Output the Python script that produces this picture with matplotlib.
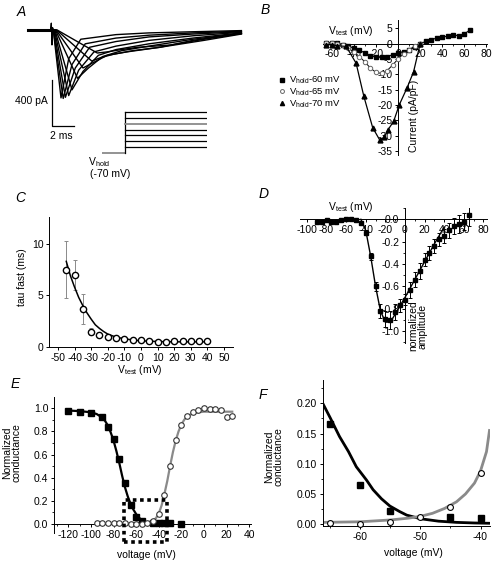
#!/usr/bin/env python3
"""Six-panel Na current figure: traces, I-V curves, tau, conductance."""

import matplotlib
matplotlib.use("Agg")
import matplotlib.pyplot as plt
from matplotlib.lines import Line2D
from matplotlib.ticker import MultipleLocator, FormatStrFormatter

W, H = 492, 562

# ---------------- data ----------------
# A: current traces (ms, pA)
trace_t = [
    [0, 2.3, 3.0, 3.7, 4.8, 8, 11, 15, 19.4],
    [0, 2.3, 3.2, 4.0, 5.2, 8, 11, 15, 19.4],
    [0, 2.35, 3.4, 4.3, 5.6, 8, 11, 15, 19.4],
    [0, 2.4, 3.7, 4.6, 6.0, 8, 11, 15, 19.4],
    [0, 2.45, 4.0, 5.0, 6.4, 8, 11, 15, 19.4],
    [0, 2.5, 4.5, 5.5, 6.8, 8.5, 11, 15, 19.4],
    [0, 2.55, 5.0, 6.0, 7.2, 9, 12, 15, 19.4],
    [0, 2.6, 5.8, 6.6, 7.8, 9.5, 12, 16, 19.4],
    [0, 2.65, 6.3, 7.2, 8.5, 10, 13, 16, 19.4],
]
trace_i = [
    [0, 0, -590, -250, -80, -40, -25, -15, -5],
    [0, 0, -595, -300, -120, -70, -45, -25, -10],
    [0, 0, -585, -330, -150, -100, -60, -35, -15],
    [0, 0, -570, -350, -190, -140, -90, -50, -20],
    [0, 0, -520, -360, -220, -170, -120, -70, -25],
    [0, 0, -420, -330, -230, -180, -140, -80, -30],
    [0, 0, -330, -280, -220, -190, -150, -90, -30],
    [0, 0, -270, -240, -210, -180, -150, -90, -35],
    [0, 0, -200, -190, -170, -150, -130, -80, -30],
]
artifact_t = [2.05, 2.12, 2.18, 2.24, 2.3]
artifact_i = [0, 60, -130, 20, 0]
scalebar_origin = (2.18, -835)
scalebar_ms = 2
scalebar_pa = 400

# A: voltage protocol
hold_mv = -70
step_mv = [-60, -50, -40, -30, -20, -10, 0]
grey_step = -20
hold_ms = 2.1
step_ms = 7.45

# B: I-V at three holding potentials
b_v60 = [-65, -60, -55, -50, -45, -40, -35, -30, -25, -20, -15, -10, -5, 0,
         5, 10, 15, 20, 25, 30, 35, 40, 45, 50, 55, 60, 65]
b_i60 = [0.3, 0.3, 0.2, -0.3, -0.8, -1.5, -2.2, -3.0, -4.0, -4.4, -4.5, -4.3,
         -3.6, -3.1, -2.6, -2.1, -1.2, 0.0, 0.7, 1.3, 1.8, 2.2, 2.4, 2.8, 2.6,
         3.2, 4.4]
b_v65 = [-65, -60, -55, -50, -45, -40, -35, -30, -25, -20, -15, -10, -5, 0,
         5, 10, 15, 20]
b_i65 = [0.2, 0.1, -0.2, -0.6, -1.5, -2.8, -4.2, -6.0, -8.0, -9.4, -9.7,
         -8.8, -7.0, -5.0, -3.3, -2.0, -0.8, 0.0]
b_v70 = [-65, -60, -55, -47, -38, -31, -23, -16.5, -12.5, -9, -4, 1, 8, 14, 20]
b_i70 = [-0.3, -0.3, -0.7, -0.9, -6.4, -17.2, -27.4, -31.5, -30.5, -28,
         -25.3, -20, -14.5, -9.2, 0]

# C: fast inactivation time constant
c_v = [-45, -40, -35, -30, -25, -20, -15, -10, -5, 0, 5, 10, 15, 20, 25, 30,
       35, 40]
c_tau = [7.5, 7.0, 3.7, 1.5, 1.15, 0.95, 0.85, 0.75, 0.65, 0.65, 0.6, 0.5,
         0.5, 0.55, 0.55, 0.6, 0.55, 0.55]
c_err = [2.75, 1.45, 1.45, 0.3, 0.1, 0.1, 0.05, 0.05, 0.05, 0.05, 0.05, 0.05,
         0.05, 0.05, 0.05, 0.05, 0.05, 0.05]
c_fit_v = [-45, -42.5, -40, -37.5, -35, -32.5, -30, -27.5, -25, -22.5, -20,
           -15, -10, -5, 0, 10, 20, 30, 40]
c_fit_tau = [8.3, 6.9, 5.8, 4.8, 4.0, 3.3, 2.7, 2.15, 1.8, 1.5, 1.25, 0.95,
             0.8, 0.68, 0.6, 0.53, 0.5, 0.5, 0.5]

# D: normalized I-V
d_v = [-90, -85, -80, -75, -70, -65, -60, -55, -50, -45, -40, -35, -30, -25,
       -20, -15, -10, -5, 0, 5, 10, 15, 20, 25, 30, 35, 40, 45, 50, 55, 60, 65]
d_amp = [-0.02, -0.02, -0.01, -0.02, -0.02, -0.01, 0.0, 0.0, -0.01, -0.03,
         -0.12, -0.33, -0.6, -0.82, -0.89, -0.9, -0.83, -0.77, -0.72, -0.63,
         -0.54, -0.46, -0.36, -0.3, -0.24, -0.18, -0.15, -0.1, -0.06, -0.045,
         -0.02, 0.04]
d_err = [0.01, 0.01, 0.01, 0.01, 0.01, 0.01, 0.01, 0.01, 0.01, 0.01, 0.02,
         0.03, 0.04, 0.06, 0.07, 0.08, 0.07, 0.06, 0.05, 0.07, 0.07, 0.07,
         0.06, 0.06, 0.06, 0.06, 0.06, 0.07, 0.07, 0.08, 0.08, 0.1]
d_fit_v = [-45, -40, -35, -30, -25, -20, -15, -10, 0, 10, 20, 30, 40]
d_fit_amp = [0.0, -0.1, -0.33, -0.6, -0.82, -0.92, -0.92, -0.85, -0.7,
             -0.54, -0.38, -0.22, -0.07]

# E: inactivation (squares) and activation (circles)
e_inact_v = [-120, -110, -100, -90, -85, -80, -75, -70, -65, -60, -55, -45,
             -40, -35, -30, -20]
e_inact_g = [0.98, 0.97, 0.96, 0.92, 0.84, 0.73, 0.56, 0.35, 0.165, 0.064,
             0.022, 0.012, 0.01, 0.012, 0.01, 0.0]
e_act_v = [-95, -90, -85, -80, -75, -70, -65, -60, -55, -50, -45, -40, -35,
           -30, -25, -20, -15, -10, -5, 0, 5, 10, 15, 20, 25]
e_act_g = [0.01, 0.01, 0.01, 0.01, 0.01, 0.01, 0.002, 0.0, 0.004, 0.012,
           0.028, 0.085, 0.25, 0.5, 0.725, 0.855, 0.935, 0.965, 0.985, 1.0,
           0.99, 0.99, 0.985, 0.925, 0.93]
e_inact_fit_v = [-120, -110, -100, -95, -90, -87.5, -85, -82.5, -80, -77.5,
                 -75, -72.5, -70, -67.5, -65, -62.5, -60, -57.5, -55, -50,
                 -45, -40]
e_inact_fit_g = [0.98, 0.975, 0.965, 0.95, 0.92, 0.89, 0.85, 0.79, 0.72,
                 0.63, 0.53, 0.42, 0.32, 0.24, 0.175, 0.125, 0.085, 0.055,
                 0.03, 0.012, 0.004, 0.002]
e_act_fit_v = [-75, -65, -60, -55, -50, -47.5, -45, -42.5, -40, -37.5, -35,
               -32.5, -30, -27.5, -25, -22.5, -20, -17.5, -15, -10, -5, 0, 10,
               25]
e_act_fit_g = [0.002, 0.003, 0.004, 0.007, 0.013, 0.02, 0.03, 0.05, 0.09,
               0.16, 0.26, 0.37, 0.5, 0.62, 0.72, 0.8, 0.86, 0.9, 0.93, 0.955,
               0.965, 0.97, 0.97, 0.97]
zoom_box_v = [-71, -33]
zoom_box_g = [-0.155, 0.205]

# F: window region, enlarged
f_inact_v = [-65, -60, -55, -45, -40]
f_inact_g = [0.165, 0.064, 0.022, 0.012, 0.01]
f_act_v = [-65, -60, -55, -50, -45, -40]
f_act_g = [0.002, 0.0, 0.004, 0.012, 0.028, 0.085]
f_inact_fit_v = [-66.3, -65, -63.5, -62, -60.7, -59, -57.9, -56.5, -55.1,
                 -53.5, -52.3, -50, -47, -44, -41, -38.5]
f_inact_fit_g = [0.2, 0.175, 0.145, 0.12, 0.095, 0.073, 0.057, 0.042, 0.03,
                 0.021, 0.015, 0.009, 0.005, 0.003, 0.002, 0.0015]
f_act_fit_v = [-66.3, -60, -55, -52, -50, -48, -46, -44, -42.5, -41, -40,
               -39, -38.5]
f_act_fit_g = [0.003, 0.004, 0.007, 0.01, 0.013, 0.018, 0.026, 0.037, 0.05,
               0.068, 0.088, 0.12, 0.155]

GREY = "#8a8a8a"


def px_axes(fig, left, top, right, bottom):
    """Add axes given in pixel coordinates (origin top-left)."""
    return fig.add_axes([left / W, 1 - bottom / H,
                         (right - left) / W, (bottom - top) / H])


def px_text(fig, x, y, s, **kw):
    kw.setdefault("ha", "center")
    kw.setdefault("va", "center")
    fig.text(x / W, 1 - y / H, s, **kw)


def style_axes(ax):
    ax.spines["top"].set_visible(False)
    ax.spines["right"].set_visible(False)
    ax.tick_params(which="major", length=2.5, width=0.7, pad=1.5,
                   labelsize=7.5)
    ax.tick_params(which="minor", length=1.5, width=0.6)
    ax.patch.set_alpha(0)


def cross_axes(ax):
    style_axes(ax)
    ax.spines["left"].set_position(("data", 0))
    ax.spines["bottom"].set_position(("data", 0))


plt.rcParams["font.family"] = ["Liberation Sans", "DejaVu Sans"]
plt.rcParams["font.size"] = 7.5
plt.rcParams["axes.unicode_minus"] = False
plt.rcParams["mathtext.fontset"] = "custom"
plt.rcParams["mathtext.rm"] = "Liberation Sans"
plt.rcParams["mathtext.it"] = "Liberation Sans:italic"
plt.rcParams["mathtext.default"] = "regular"
plt.rcParams["axes.linewidth"] = 0.7

fig = plt.figure(figsize=(W / 100, H / 100), dpi=100)

# ---------------- A ----------------
ax_a = px_axes(fig, 0, 0, 250, 190)
ax_a.set_xlim(-28 / 11, 222 / 11)
ax_a.set_ylim(-1391, 261)
ax_a.axis("off")
for t, i in zip(trace_t, trace_i):
    ax_a.plot(t, i, color="k", lw=1.0)
ax_a.plot([0, 2.3], [0, 0], color="k", lw=2.2)
ax_a.plot(artifact_t, artifact_i, color="k", lw=0.9)
x0, y0 = scalebar_origin
ax_a.plot([x0, x0, x0 + scalebar_ms], [y0 + scalebar_pa, y0, y0],
          color="k", lw=0.9)
px_text(fig, 48, 101, "400 pA", ha="right", fontsize=7.5)
px_text(fig, 61, 136, "2 ms", fontsize=7.5)

ax_p = px_axes(fig, 102, 108, 207, 156)
ax_p.set_xlim(0, hold_ms + step_ms)
ax_p.set_ylim(-75.1, 6.9)
ax_p.axis("off")
ax_p.plot([0, hold_ms], [hold_mv, hold_mv], color=GREY, lw=1.3)
ax_p.plot([hold_ms, hold_ms], [hold_mv, max(step_mv)], color="k", lw=0.9)
for mv in step_mv:
    ax_p.plot([hold_ms, hold_ms + step_ms], [mv, mv],
              color=GREY if mv == grey_step else "k",
              lw=1.3 if mv == grey_step else 0.9)
px_text(fig, 88, 162, "V$_{hold}$", ha="left", fontsize=7.5)
px_text(fig, 90, 174, "(-70 mV)", ha="left", fontsize=7.5)

# ---------------- B ----------------
ax_b = px_axes(fig, 323, 20, 487, 155)
cross_axes(ax_b)
ax_b.set_xlim(-68, 80.5)
ax_b.set_ylim(-36.3, 7.7)
ax_b.plot(b_v60, b_i60, color="k", lw=0.8, marker="s", ms=3, zorder=3)
ax_b.plot(b_v65, b_i65, color="k", lw=0.7, marker="o", ms=3.2,
          mfc="white", mec="#666666", mew=0.7, zorder=3)
ax_b.plot(b_v70, b_i70, color="k", lw=0.9, marker="^", ms=3.5, zorder=3)
ax_b.set_xticks([-60, -40, -20, 0, 20, 40, 60, 80])
ax_b.set_yticks(list(range(5, -36, -5)))
ax_b.xaxis.set_minor_locator(MultipleLocator(10))
handles = [
    Line2D([], [], ls="none", marker="s", ms=2.5, color="k"),
    Line2D([], [], ls="none", marker="o", ms=2.8, mfc="white", mec="#666666",
           mew=0.7),
    Line2D([], [], ls="none", marker="^", ms=3, color="k"),
]
labels = ["V$_{hold}$-60 mV", "V$_{hold}$-65 mV", "V$_{hold}$-70 mV"]
fig.legend(handles, labels, loc="upper left",
           bbox_to_anchor=(279 / W, 1 - 75 / H), frameon=False,
           fontsize=6.8, handlelength=0.6, handletextpad=0.5,
           labelspacing=0.0, borderpad=0, borderaxespad=0)
px_text(fig, 328, 31, "V$_{test}$ (mV)", ha="left", fontsize=7.5)
px_text(fig, 414, 116, "Current (pA/pF)", rotation=90, fontsize=7.5)

# ---------------- C ----------------
ax_c = px_axes(fig, 49, 217, 233, 347)
style_axes(ax_c)
ax_c.set_xlim(-55.4, 55.4)
ax_c.set_ylim(0, 12.6)
ax_c.errorbar(c_v, c_tau, yerr=c_err, fmt="none", ecolor=GREY, elinewidth=0.7,
              capsize=1.5, capthick=0.7, zorder=2)
ax_c.plot(c_fit_v, c_fit_tau, color="k", lw=1.1, zorder=3)
ax_c.plot(c_v, c_tau, ls="none", marker="o", ms=4.5, mfc="white", mec="k",
          mew=1.0, zorder=4, clip_on=False)
ax_c.set_xticks(list(range(-50, 51, 10)))
ax_c.set_yticks([0, 5, 10])
px_text(fig, 22, 277, "tau fast (ms)", rotation=90, fontsize=7.5)
px_text(fig, 140, 370, "V$_{test}$ (mV)", fontsize=7.5)

# ---------------- D ----------------
ax_d = px_axes(fig, 300, 208, 487, 343)
cross_axes(ax_d)
ax_d.set_xlim(-107.1, 83.7)
ax_d.set_ylim(-1.107, 0.101)
ax_d.errorbar(d_v, d_amp, yerr=d_err, fmt="none", ecolor="k", elinewidth=0.7,
              capsize=1.5, capthick=0.7, zorder=2)
ax_d.plot(d_fit_v, d_fit_amp, color="k", lw=1.0, zorder=3)
ax_d.plot(d_v, d_amp, ls="none", marker="s", ms=3.5, color="k", zorder=4)
ax_d.set_xticks(list(range(-100, 81, 20)))
ax_d.xaxis.set_minor_locator(MultipleLocator(10))
ax_d.set_yticks([0.0, -0.2, -0.4, -0.6, -0.8, -1.0])
ax_d.yaxis.set_minor_locator(MultipleLocator(0.1))
ax_d.yaxis.set_major_formatter(FormatStrFormatter("%.1f"))
px_text(fig, 328, 207, "V$_{test}$ (mV)", ha="left", fontsize=7.5)
px_text(fig, 418, 326, "normalized\namplitude", rotation=90, fontsize=7.5,
        linespacing=0.95)

# ---------------- E ----------------
ax_e = px_axes(fig, 54, 397, 251, 533)
style_axes(ax_e)
ax_e.spines["bottom"].set_position(("data", 0))
ax_e.set_xlim(-132.7, 41.6)
ax_e.set_ylim(-0.078, 1.097)
ax_e.plot(e_inact_fit_v, e_inact_fit_g, color="k", lw=1.6, zorder=2)
ax_e.plot(e_act_fit_v, e_act_fit_g, color=GREY, lw=1.6, zorder=2)
ax_e.plot(e_inact_v, e_inact_g, ls="none", marker="s", ms=4, color="k",
          zorder=3)
ax_e.plot(e_act_v, e_act_g, ls="none", marker="o", ms=4, mfc="white",
          mec="#333333", mew=0.8, zorder=3)
bx = [zoom_box_v[0], zoom_box_v[1], zoom_box_v[1], zoom_box_v[0],
      zoom_box_v[0]]
by = [zoom_box_g[0], zoom_box_g[0], zoom_box_g[1], zoom_box_g[1],
      zoom_box_g[0]]
ax_e.plot(bx, by, color="k", lw=2.6, ls=(0, (1.0, 1.0)), clip_on=False,
          zorder=4)
ax_e.set_xticks(list(range(-120, 41, 20)))
ax_e.xaxis.set_minor_locator(MultipleLocator(10))
ax_e.set_yticks([0.0, 0.2, 0.4, 0.6, 0.8, 1.0])
ax_e.yaxis.set_minor_locator(MultipleLocator(0.1))
ax_e.yaxis.set_major_formatter(FormatStrFormatter("%.1f"))
px_text(fig, 12, 453, "Normalized\nconductance", rotation=90, fontsize=7.5,
        linespacing=0.95)
px_text(fig, 146, 555, "voltage (mV)", fontsize=7.5)

# ---------------- F ----------------
ax_f = px_axes(fig, 322.7, 380, 489.5, 526)
style_axes(ax_f)
ax_f.set_xlim(-66.3, -38.5)
ax_f.set_ylim(-0.003, 0.2385)
ax_f.plot(f_inact_fit_v, f_inact_fit_g, color="k", lw=2.0, zorder=2)
ax_f.plot(f_act_fit_v, f_act_fit_g, color=GREY, lw=2.0, zorder=2)
ax_f.plot(f_inact_v, f_inact_g, ls="none", marker="s", ms=4.5, color="k",
          zorder=3)
ax_f.plot(f_act_v, f_act_g, ls="none", marker="o", ms=4.2, mfc="white",
          mec="k", mew=0.8, zorder=3, clip_on=False)
ax_f.set_xticks([-60, -50, -40])
ax_f.xaxis.set_minor_locator(MultipleLocator(5))
ax_f.set_yticks([0.0, 0.05, 0.10, 0.15, 0.20])
ax_f.yaxis.set_minor_locator(MultipleLocator(0.025))
ax_f.yaxis.set_major_formatter(FormatStrFormatter("%.2f"))
px_text(fig, 274, 457, "Normalized\nconductance", rotation=90, fontsize=7.5,
        linespacing=0.95)
px_text(fig, 413, 553, "voltage (mV)", fontsize=7.5)

# panel letters
for letter, (x, y) in zip("ABCDEF", [(21, 12), (265, 10), (20, 198),
                                     (264, 194), (15, 384), (263, 395)]):
    px_text(fig, x, y, letter, fontsize=10, style="italic")

fig.savefig("out.png", dpi=100)
